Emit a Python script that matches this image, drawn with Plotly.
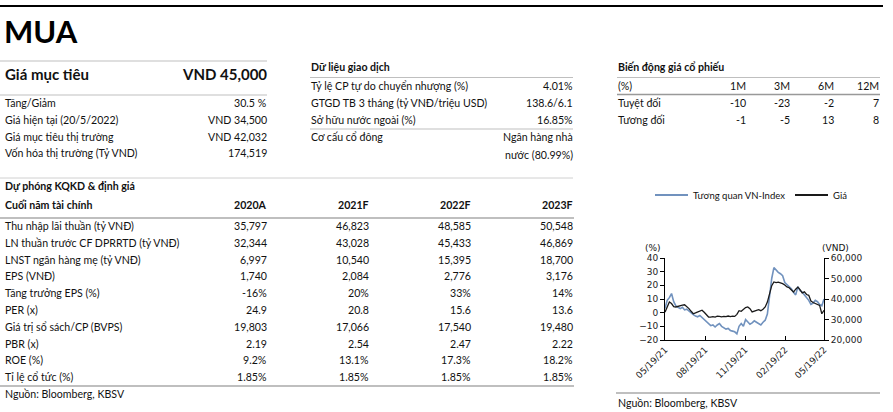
import plotly.graph_objects as go
import pandas as pd

W, H = 893, 412
FONT = "Lato"
NUMFONT = "Lato"
TXT = "#111111"
GRAY = "#BFBFBF"
FS = 10.6

# ---------------- data ----------------
target_label = "Giá mục tiêu"
target_value = "VND 45,000"
summary_labels = ["Tăng/Giảm", "Giá hiện tại (20/5/2022)", "Giá mục tiêu thị trường", "Vốn hóa thị trường (Tỷ VND)"]
summary_values = ["30.5 %", "VND 34,500", "VND 42,032", "174,519"]

trade_labels = ["Tỷ lệ CP tự do chuyển nhượng (%)", "GTGD TB 3 tháng (tỷ VNĐ/triệu USD)", "Sở hữu nước ngoài (%)", "Cơ cấu cổ đông"]
trade_values = ["4.01%", "138.6/6.1", "16.85%", "Ngân hàng nhà"]
trade_extra = "nước (80.99%)"

perf_periods = ["1M", "3M", "6M", "12M"]
perf_absolute = ["-10", "-23", "-2", "7"]
perf_relative = ["-1", "-5", "13", "8"]

fin_years = ["2020A", "2021F", "2022F", "2023F"]
fin_labels = ["Thu nhập lãi thuần (tỷ VNĐ)", "LN thuần trước CF DPRRTD (tỷ VNĐ)", "LNST ngân hàng mẹ (tỷ VNĐ)",
              "EPS (VNĐ)", "Tăng trưởng EPS (%)", "PER (x)", "Giá trị sổ sách/CP (BVPS)", "PBR (x)", "ROE (%)",
              "Tỉ lệ cổ tức (%)"]
fin_2020A = ["35,797", "32,344", "6,997", "1,740", "-16%", "24.9", "19,803", "2.19", "9.2%", "1.85%"]
fin_2021F = ["46,823", "43,028", "10,540", "2,084", "20%", "20.8", "17,066", "2.54", "13.1%", "1.85%"]
fin_2022F = ["48,585", "45,433", "15,395", "2,776", "33%", "15.6", "17,540", "2.47", "17.3%", "1.85%"]
fin_2023F = ["50,548", "46,869", "18,700", "3,176", "14%", "13.6", "19,480", "2.22", "18.2%", "1.85%"]

dates = pd.date_range("2021-05-19", periods=74, freq="5D")
rel_vnindex = [3, 9, 11, 14, 8, 5, 4, 3, 4, 2, 2.5, 1, -0.5, -1.5, -2.5, -3, -2, -3.5, -5, -7,
               -8, -9.5, -9, -10.5, -9, -8, -10, -11, -12, -11.5, -13, -13.5, -14, -15.5, -10, -8, -10, -5, -7, -8.5,
               -7.5, -6, -7, -8, -9, -7, -5.5, -1, 13, 25, 33, 31, 29.5, 28.5, 27, 22, 20.5, 19, 17.5, 15,
               13, 19, 16, 15, 13, 11, 9, 6, 7, 9, 8, 6, 5, 10]
price = [33600, 36500, 38500, 37800, 36300, 36100, 36500, 36900, 37000, 37200, 36400, 35300, 34000, 32800, 33200,
         33700, 34300, 34500, 33500, 32200, 31200, 31200, 31400, 31200, 31600, 31500, 31300, 31500, 31400, 31700,
         31400, 31600, 31500, 32500, 34300, 34000, 34800, 35800, 36100, 35300, 33700, 34300, 34500, 34800, 34300,
         35000, 36100, 38500, 43000, 46500, 48300, 48000, 48200, 48000, 47500, 46800, 45900, 45500, 44500, 43400,
         44800, 45800, 44600, 43000, 43500, 42200, 41800, 39000, 38300, 37700, 37200, 36900, 32800, 34500]
x_tick_dates = ["2021-05-19", "2021-08-19", "2021-11-19", "2022-02-19", "2022-05-19"]
x_tick_text = ["05/19/21", "08/19/21", "11/19/21", "02/19/22", "05/19/22"]
series_names = ["Tương quan VN-Index", "Giá"]


def px(x):
    return x / W


def py(y):
    return 1 - y / H


annotations = []
shapes = []


def txt(x, y, s, anchor="left", size=FS, bold=False, color=TXT, family=FONT):
    annotations.append(dict(x=px(x), y=py(y), xref="paper", yref="paper",
                            text=("<b>%s</b>" % s) if bold else s, showarrow=False,
                            xanchor=anchor, yanchor="middle", borderpad=0,
                            font=dict(family=family, size=size, color=color)))


def hline(x0, x1, y, color=GRAY, width=1.2):
    shapes.append(dict(type="line", xref="paper", yref="paper", x0=px(x0), x1=px(x1),
                       y0=py(y), y1=py(y), line=dict(color=color, width=width)))


# top black rule
hline(0, 883, 6, color="#000000", width=2)
txt(3, 31, "MUA", size=31, bold=True, color="#000000")

# target price block
hline(0, 267, 61)
txt(4, 74, target_label, size=15, bold=True)
txt(268, 74, target_value, anchor="right", size=15, bold=True)
hline(0, 267, 95)
for i, (lab, val) in enumerate(zip(summary_labels, summary_values)):
    y = 103 + i * 16.8
    txt(4, y, lab)
    txt(268, y, val, anchor="right", family=NUMFONT)

# trading data block
txt(310, 67, "Dữ liệu giao dịch", bold=True)
hline(310, 573, 77.5)
for i, (lab, val) in enumerate(zip(trade_labels, trade_values)):
    y = 86 + i * 17
    txt(310, y, lab)
    txt(574, y, val, anchor="right", family=NUMFONT)
hline(310, 573, 129)
txt(574, 155, trade_extra, anchor="right")

# price performance block
txt(617, 67, "Biến động giá cổ phiếu", bold=True)
hline(617, 880, 77.5)
perf_x = [747, 791, 835, 880]
txt(617, 86, "(%)")
for xx, p in zip(perf_x, perf_periods):
    txt(xx, 86, p, anchor="right")
hline(617, 880, 94.5, color="#999999", width=1.4)
txt(617, 103, "Tuyệt đối")
txt(617, 120, "Tương đối")
for xx, a, r in zip(perf_x, perf_absolute, perf_relative):
    txt(xx, 103, a, anchor="right", family=NUMFONT)
    txt(xx, 120, r, anchor="right", family=NUMFONT)

# financial forecast table
hline(0, 573, 178, color="#D0D0D0", width=1)
txt(4, 186, "Dự phóng KQKD & định giá", bold=True)
txt(4, 205, "Cuối năm tài chính", bold=True)
col_x = [268, 370, 472, 574]
for xx, yr in zip(col_x, fin_years):
    txt(xx, 205, yr, anchor="right", bold=True)
hline(0, 574, 218, color=GRAY, width=2)
cols = [fin_2020A, fin_2021F, fin_2022F, fin_2023F]
for i, lab in enumerate(fin_labels):
    y = 226 + i * 16.8
    txt(4, y, lab)
    for xx, col in zip(col_x, cols):
        txt(xx, y, col[i], anchor="right", family=NUMFONT)
hline(0, 574, 386, color=GRAY, width=2)
txt(4, 394, "Nguồn: Bloomberg, KBSV")

# chart footer
hline(616, 880, 393, color=GRAY, width=2)
txt(617, 403, "Nguồn: Bloomberg, KBSV")

# chart legend (drawn manually)
BLUE = "#7192BE"
BLACK = "#1A1A1A"
shapes.append(dict(type="line", xref="paper", yref="paper", x0=px(655), x1=px(688), y0=py(195), y1=py(195),
                   line=dict(color=BLUE, width=2)))
txt(692, 195, series_names[0], size=9.5)
shapes.append(dict(type="line", xref="paper", yref="paper", x0=px(795), x1=px(828), y0=py(195), y1=py(195),
                   line=dict(color=BLACK, width=2)))
txt(832, 195, series_names[1], size=9.5)

# axis unit labels
txt(653, 248, "(%)", anchor="center", size=9, family="DejaVu Sans")
txt(835, 248, "(VND)", anchor="center", size=9, family="DejaVu Sans")

fig = go.Figure()
fig.add_trace(go.Scatter(x=dates, y=rel_vnindex, name=series_names[0], mode="lines",
                         line=dict(color=BLUE, width=1.6), yaxis="y", showlegend=False))
fig.add_trace(go.Scatter(x=dates, y=price, name=series_names[1], mode="lines",
                         line=dict(color=BLACK, width=1.3), yaxis="y2", showlegend=False))

tickfont = dict(family="DejaVu Sans", size=9, color="#222222")
fig.update_layout(
    template="none",
    width=W, height=H, margin=dict(l=0, r=0, t=0, b=0, pad=0, autoexpand=False),
    paper_bgcolor="white", plot_bgcolor="white", showlegend=False,
    xaxis=dict(domain=[px(665), px(824)], range=["2021-05-19", "2022-05-19"], tickvals=x_tick_dates,
               ticktext=x_tick_text, tickangle=-45, tickfont=tickfont, showgrid=False, zeroline=False,
               showline=True, linecolor="#000000", linewidth=1, ticks="inside", ticklen=4,
               tickcolor="#000000", automargin=False),
    yaxis=dict(domain=[py(340), py(258)], range=[-20, 40], dtick=10, tickfont=tickfont, showgrid=False,
               zeroline=False, showline=True, linecolor="#000000", linewidth=1, ticks="outside",
               ticklen=4, tickcolor="#000000", automargin=False),
    yaxis2=dict(overlaying="y", side="right", anchor="x", range=[20000, 60000], dtick=10000,
                tickformat=",", tickfont=tickfont, showgrid=False, zeroline=False, showline=True,
                linecolor="#000000", linewidth=1, ticks="outside", ticklen=4, tickcolor="#000000",
                automargin=False),
    annotations=annotations, shapes=shapes,
)

fig.write_html("out.html", config={"displayModeBar": False},
               post_script="document.body.style.margin='0';document.body.style.overflow='hidden';")
